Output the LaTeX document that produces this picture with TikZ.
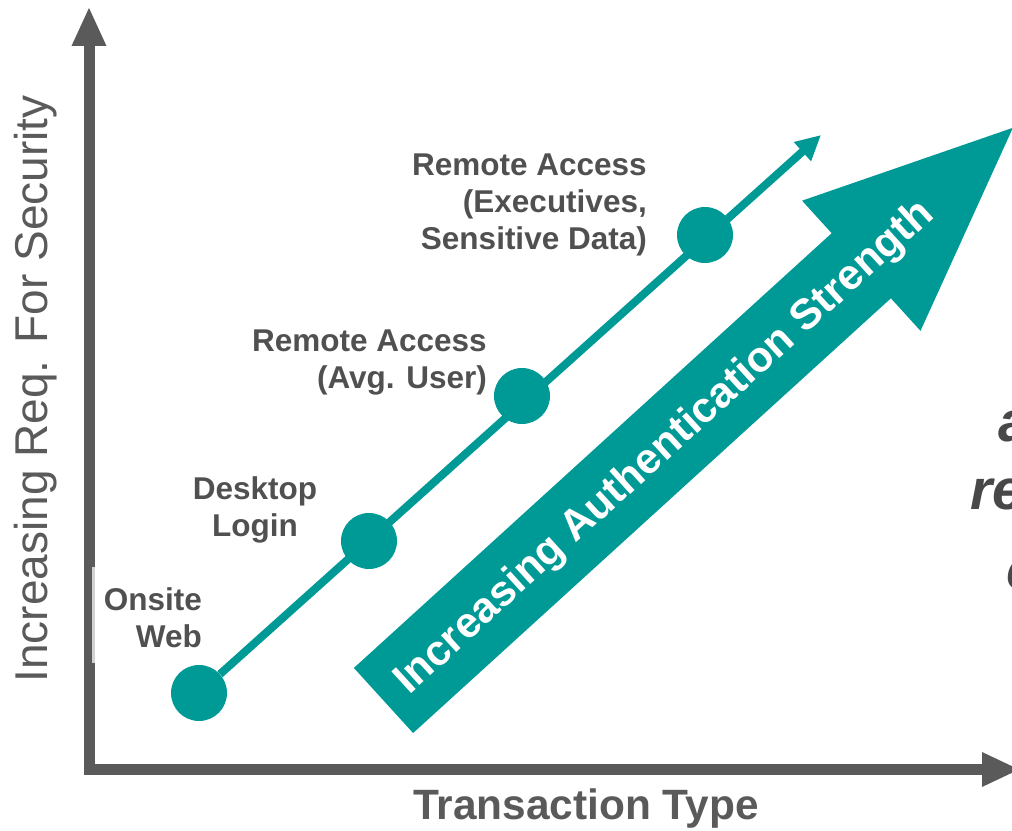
\documentclass[tikz,border=0pt]{standalone}
\usepackage{fontspec}
\setmainfont{Liberation Sans}
\usetikzlibrary{arrows.meta}
\definecolor{tealc}{RGB}{0,154,150}
\definecolor{axisgray}{RGB}{90,90,90}
\definecolor{txtgray}{RGB}{80,80,80}
\definecolor{fraggray}{RGB}{72,72,72}
\begin{document}
\begin{tikzpicture}[x=1pt,y=1pt,
  dot/.style={circle, fill=tealc, minimum size=56pt, inner sep=0pt},
  lbl/.style={font=\fontsize{31.5pt}{37pt}\selectfont\bfseries, text=txtgray, inner sep=0pt},
  conn/.style={draw=tealc, line width=8pt, -{Triangle[length=25pt,width=24pt]}},
  axisline/.style={draw=axisgray, line width=11pt},
  frag/.style={font=\fontsize{57pt}{68pt}\selectfont\bfseries\itshape, text=fraggray, inner sep=0pt, anchor=base west}]
\useasboundingbox (0,0) rectangle (1012,830);
\clip (0,0) rectangle (1012,830);
% axes
\draw[axisline] (89,785) -- (89,60.5) -- (983,60.5);
\fill[axisgray] (71.5,784) -- (106.5,784) -- (89,822) -- cycle;
\fill[axisgray] (982,43) -- (982,78) -- (1019,60.5) -- cycle;
\fill[gray!35] (91.5,167) rectangle (94.5,263);
% big arrow
\fill[tealc, shift={(383.5,129.5)}, rotate=42.3] (0,-44) -- (646,-44) -- (646,-88) -- (851,0) -- (646,88) -- (646,44) -- (0,44) -- cycle;
\node[text=white, font=\fontsize{42.7pt}{48pt}\selectfont\bfseries, rotate=42.3, inner sep=0pt] (strength) at (665,382) {Increasing Authentication Strength};
% points
\node[dot] (onsite) at (199,137) {};
\node[dot] (desktop) at (369,289) {};
\node[dot] (remavg) at (522,434) {};
\node[dot] (remexec) at (705,595) {};
\coordinate (tip) at (821,695);
\draw[conn] (onsite) -- (tip);
% labels
\node[lbl, align=right, anchor=north east] (l1) at (202,243) {Onsite\\Web};
\node[lbl, align=center, anchor=north] (l2) at (255,354) {Desktop\\Login};
\node[lbl, align=right, anchor=north east] (l3) at (487,500) {Remote Access\\(Avg. User)};
\node[lbl, align=right, anchor=north east] (l4) at (647,676) {Remote Access\\(Executives,\\Sensitive Data)};
% axis labels
\node[font=\fontsize{46pt}{52pt}\selectfont, text=axisgray, rotate=90, inner sep=0pt] (ylab) at (36,441) {Increasing Req. For Security};
\node[font=\fontsize{42.4pt}{48pt}\selectfont\bfseries, text=axisgray, anchor=base, inner sep=0pt] (xlab) at (586,10) {Transaction Type};
% cut-off text at right edge
\node[frag] (f1) at (998,388) {a};
\node[frag] (f2) at (970,320) {re};
\node[frag] (f3) at (1006,240) {c};
\end{tikzpicture}
\end{document}
